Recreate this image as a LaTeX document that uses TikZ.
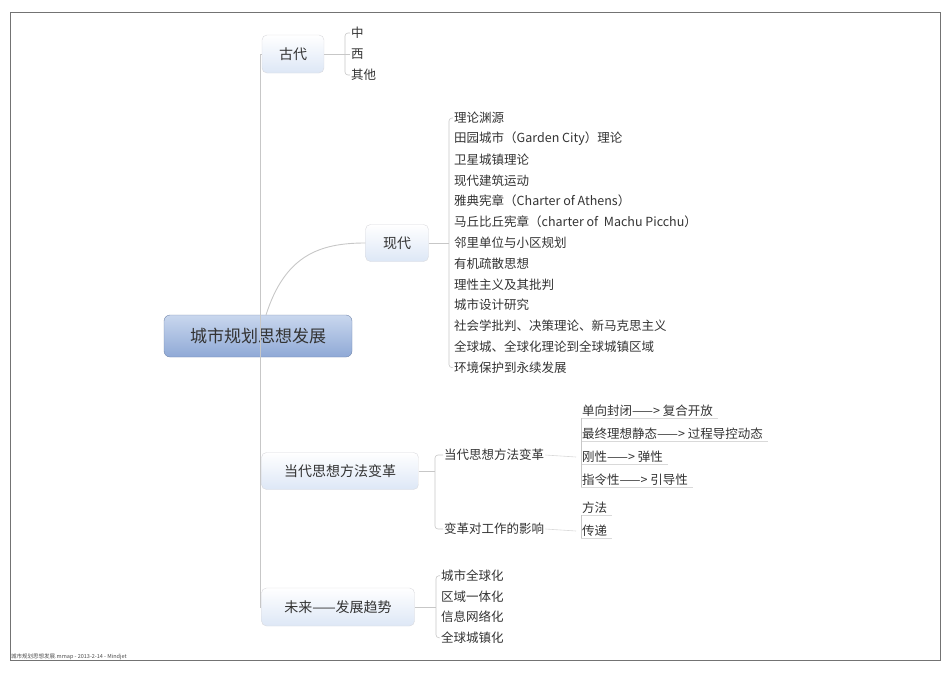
\documentclass[tikz,border=0pt]{standalone}
\usepackage{fontspec}
\setmainfont{Noto Sans CJK SC}
\definecolor{rootT}{HTML}{C9D7EE}
\definecolor{rootB}{HTML}{8FA9D6}
\definecolor{topB}{HTML}{DDE7F6}
\begin{document}
\begin{tikzpicture}[x=1pt,y=-1pt,
  lnk/.style={draw=black!22,line width=0.9pt},
  br/.style={draw=black!22,line width=0.6pt,rounded corners=3pt},
  leaf/.style={anchor=west,inner sep=1pt,font=\fontsize{12.5}{12}\selectfont,text=black!80},
  topic/.style={draw=blue!10!black!15,rounded corners=5pt,top color=white,bottom color=topB,font=\fontsize{14}{13}\selectfont,text=black!80,minimum height=38pt,inner xsep=8pt},
  ul/.style={draw=black!15,line width=0.6pt}]
\useasboundingbox (0,0) rectangle (950,672);
\draw[black!55,line width=0.8pt] (10,12) rectangle (940,660);
\node[anchor=south west,inner sep=0pt,font=\fontsize{5.5}{6}\selectfont,text=black!70] (foot) at (11,660) {城市规划思想发展.mmap - 2013-2-14 - Mindjet};
% root
\node[draw=rootB!80!black,rounded corners=6pt,top color=rootT,bottom color=rootB,minimum width=188pt,minimum height=42pt,font=\fontsize{17}{17}\selectfont,text=black!80] (root) at (258,336) {城市规划思想发展};
\node[topic,minimum width=62pt] (gd) at (293,54) {古代};
\node[topic,minimum width=63pt,minimum height=37pt] (xd) at (397,243) {现代};
\node[topic,minimum width=157pt,minimum height=37pt] (dd) at (340,471) {当代思想方法变革};
\node[topic,minimum width=153pt] (wl) at (338,607) {未来——发展趋势};
\coordinate (t1) at (260,54); \coordinate (t2) at (260,607);
\draw[lnk] (t1) -- (t2);
\draw[lnk] (t1) -- (gd.west); \draw[lnk] (260,471) -- (dd.west); \draw[lnk] (260,607) -- (wl.west);
\draw[lnk] (266,315) .. controls (285,255) and (320,243) .. (xd.west);
% 古代 leaves
\foreach \t [count=\i] in {中,西,其他}{\node[leaf] (g\i) at (350,12+21*\i) {\t};}
\draw[br] (g1.west) -| (345,54) |- (g3.west); \draw[lnk] (gd.east) -- (g2.west);
% 现代 leaves
\foreach \t [count=\i] in {理论渊源,田园城市（Garden City）理论,卫星城镇理论,现代建筑运动,雅典宪章（Charter of Athens）,马丘比丘宪章（charter of\ \ Machu Picchu）,邻里单位与小区规划,有机疏散思想,理性主义及其批判,城市设计研究,社会学批判、决策理论、新马克思主义,全球城、全球化理论到全球城镇区域,环境保护到永续发展}{\node[leaf] (m\i) at (453,97.2+20.8*\i) {\t};}
\draw[br] (m1.west) -| (449,243) |- (m13.west); \draw[lnk] (xd.east) -- (449,243);
% 当代
\node[leaf] (d1) at (443,455) {当代思想方法变革};
\node[leaf] (d2) at (443,529) {变革对工作的影响};
\draw[br] (d1.west) -| (435,471) |- (d2.west); \draw[lnk] (dd.east) -- (435,471);
\foreach \t [count=\i] in {单向封闭——> 复合开放,最终理想静态——> 过程导控动态,刚性——> 弹性,指令性——> 引导性}{\node[leaf] (s\i) at (581,388+23*\i) {\t}; \draw[ul] (s\i.south west) -- ([xshift=4pt]s\i.south east);}
\draw[br] (s1.south west) -- (s4.south west); \draw[ul] (d1.east) -- (576,457);
\node[leaf] (f1) at (581,508) {方法}; \node[leaf] (f2) at (581,531) {传递};
\draw[ul] (f1.south west) -- ([xshift=4pt]f1.south east); \draw[ul] (f2.south west) -- ([xshift=4pt]f2.south east);
\draw[br] (f1.south west) -- (f2.south west); \draw[ul] (d2.east) -- (576,531);
% 未来
\foreach \t [count=\i] in {城市全球化,区域一体化,信息网络化,全球城镇化}{\node[leaf] (w\i) at (440,555+20.7*\i) {\t};}
\draw[br] (w1.west) -| (436,607) |- (w4.west); \draw[lnk] (wl.east) -- (436,607);
\end{tikzpicture}
\end{document}
